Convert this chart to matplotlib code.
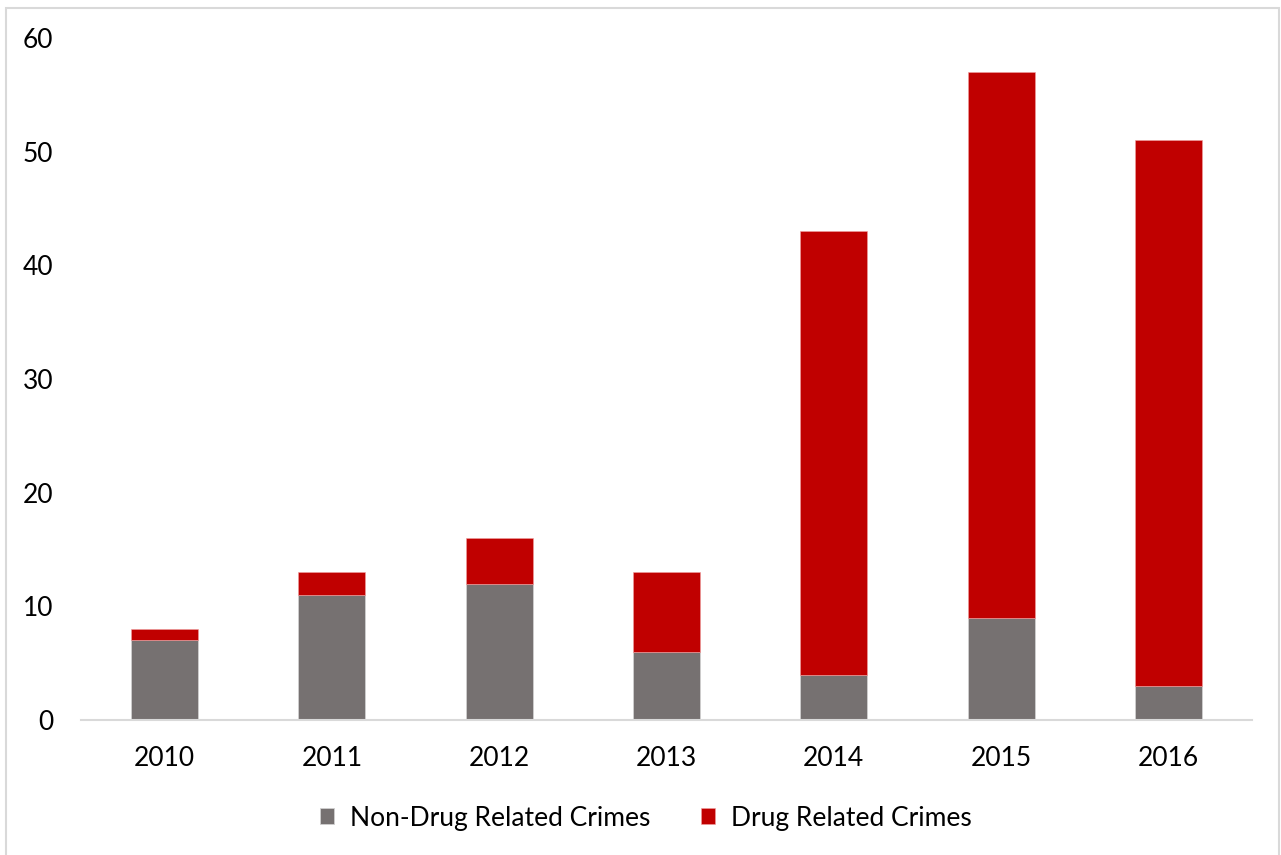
import matplotlib
matplotlib.use("Agg")
import matplotlib.pyplot as plt
from matplotlib.patches import Rectangle

years = ["2010", "2011", "2012", "2013", "2014", "2015", "2016"]
non_drug = [7, 11, 12, 6, 4, 9, 3]
drug = [1, 2, 4, 7, 39, 48, 48]
series_names = ["Non-Drug Related Crimes", "Drug Related Crimes"]
colors = ["#767171", "#C00000"]

plt.rcParams['font.family'] = ['Lato', 'DejaVu Sans']

fig = plt.figure(figsize=(12.81, 8.55), dpi=100)
ax = fig.add_axes([81/1281, 1 - 720/855, (1252-81)/1281, (720-38)/855])

x = list(range(len(years)))
ax.bar(x, non_drug, width=0.4, color=colors[0], label=series_names[0],
       edgecolor="#d0d0d0", linewidth=0.6)
ax.bar(x, drug, width=0.4, bottom=non_drug, color=colors[1], label=series_names[1],
       edgecolor="#f0a0a0", linewidth=0.4)

ax.set_xlim(-0.5, 6.5)
ax.set_ylim(0, 60)
ax.set_yticks(range(0, 61, 10))
ax.set_xticks(x)
ax.set_xticklabels(years)
for s in ["top", "right", "left"]:
    ax.spines[s].set_visible(False)
ax.spines["bottom"].set_color("#d9d9d9")
ax.spines["bottom"].set_linewidth(1.5)
ax.tick_params(axis="both", length=0, labelsize=19, colors="black")
ax.tick_params(axis="y", pad=20)
ax.tick_params(axis="x", pad=19)

fig.legend(loc="center", bbox_to_anchor=(0.504, 1 - 818/855), ncol=2, frameon=False,
           fontsize=19, handlelength=0.55, handleheight=0.55, handletextpad=0.6,
           columnspacing=1.9)

fig.patches.append(Rectangle((6/1281, -0.1), (1279-6)/1281, 1.1 - 8/855,
                             transform=fig.transFigure, fill=False,
                             edgecolor="#d9d9d9", linewidth=1.5))

fig.savefig("out.png", dpi=100)
